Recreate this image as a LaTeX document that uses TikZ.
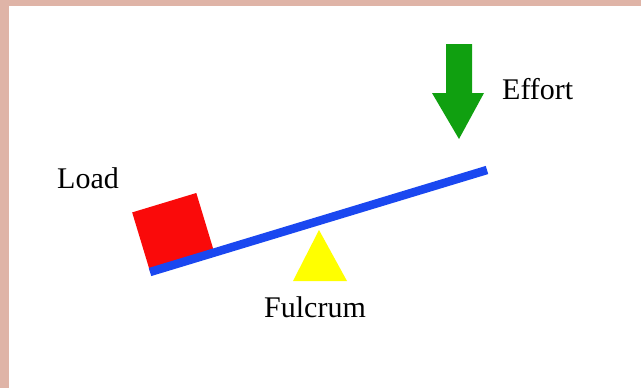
\documentclass[tikz,border=0pt]{standalone}
\usepackage{fontspec}
\setmainfont{Liberation Serif}
\usepackage{xcolor}
\usepackage{tikz}
\usetikzlibrary{calc}
\definecolor{frame}{HTML}{DFB4A7}
\definecolor{beam}{HTML}{1A47F0}
\definecolor{load}{HTML}{FA0A0A}
\definecolor{effort}{HTML}{10A010}
\definecolor{pivot}{HTML}{FFFF00}

\begin{document}
\begin{tikzpicture}[x=1pt,y=-1pt,
 lbl/.style={font=\fontsize{30}{36}\selectfont,anchor=base west,inner sep=0pt},
 bar/.style={draw=beam,line width=8.5pt}]
\useasboundingbox (0,0) rectangle (641,388);
\fill[frame] (0,0) rectangle (641,388);
\fill[white] (9,6) rectangle (641,388);
\coordinate (left) at (150,272);
\coordinate (right) at (487,170);
\node[fill=load,rotate=16.84,anchor=south west,inner sep=0pt,
 minimum width=67pt,minimum height=62pt] (block) at (left) {};
\draw[bar] (left)--(right);
\fill[pivot] (319,230)--(347,281)--(293,281)--cycle;
\fill[effort] (446,44)--(472,44)--(472,93)--(484,93)--(459,139)--(432,93)--(446,93)--cycle;
\node[lbl] (loadtxt) at (57,188) {Load};
\node[lbl] (efforttxt) at (502,99) {Effort};
\node[lbl] (fulcrumtxt) at (264,317) {Fulcrum};
\end{tikzpicture}
\end{document}
